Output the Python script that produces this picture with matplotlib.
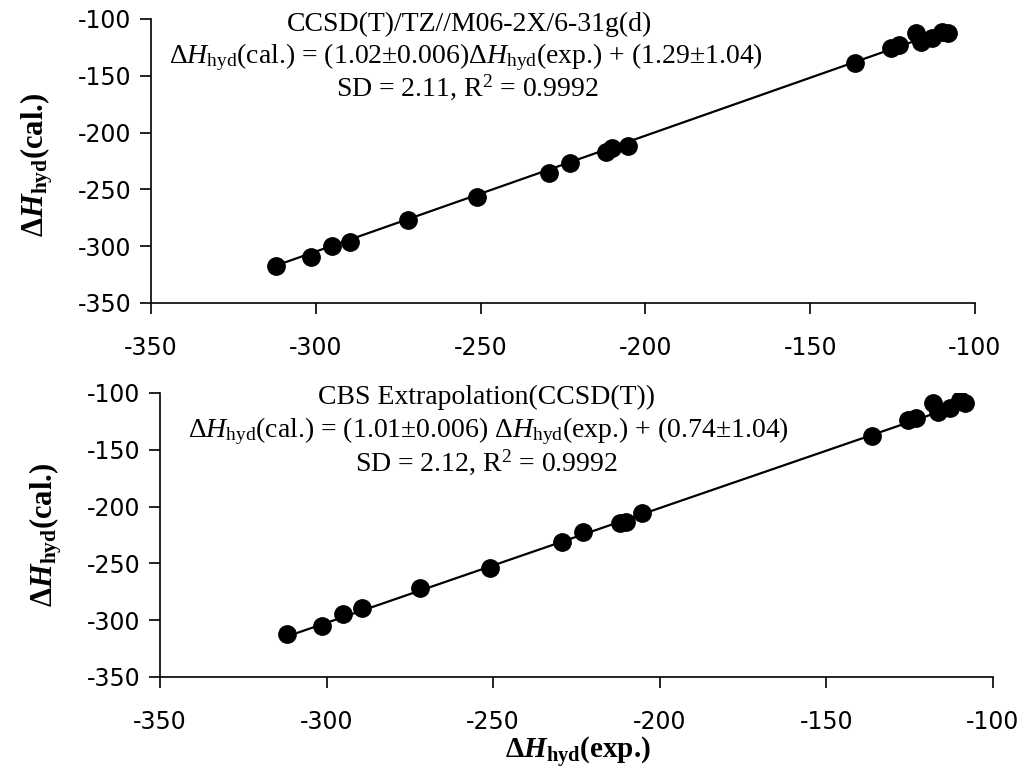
import matplotlib
matplotlib.use("Agg")
import matplotlib.pyplot as plt
import numpy as np

# ---- data ----
exp_vals = [-312, -301.5, -295, -289.5, -272, -251, -229.3, -223, -212, -210,
            -205.3, -136.3, -125.5, -123, -118, -116.5, -113, -110, -108.3]
cal_top = [-317.4, -309.5, -299.8, -296, -277, -256.7, -235.6, -226.8, -217.1, -213.6,
           -211.8, -138.7, -125.5, -122.9, -112.3, -120, -116.7, -111.4, -112.3]
cal_bot = [-312.1, -305.1, -294.5, -289.3, -271.7, -254, -231.2, -222.4, -214.4, -213.6,
           -205.6, -137.9, -123.8, -122, -108.8, -116.7, -113.2, -106, -108.8]
fit_top = (1.02, 1.29)
fit_bot = (1.01, 0.74)
ticks = [-350, -300, -250, -200, -150, -100]

title_top = "CCSD(T)/TZ//M06-2X/6-31g(d)"
eq_top = r"$\Delta\mathit{H}_{\rm hyd}$(cal.) = (1.02±0.006)$\Delta\mathit{H}_{\rm hyd}$(exp.) + (1.29±1.04)"
sd_top = r"SD = 2.11, R$^{2}$ = 0.9992"
title_bot = "CBS Extrapolation(CCSD(T))"
eq_bot = r"$\Delta\mathit{H}_{\rm hyd}$(cal.) = (1.01±0.006) $\Delta\mathit{H}_{\rm hyd}$(exp.) + (0.74±1.04)"
sd_bot = r"SD = 2.12, R$^{2}$ = 0.9992"
ylab = r"$\mathbf{\Delta}\mathbfit{H}_{\mathbf{hyd}}$(cal.)"
xlab = r"$\mathbf{\Delta}\mathbfit{H}_{\mathbf{hyd}}$(exp.)"

plt.rcParams['mathtext.fontset'] = 'custom'
plt.rcParams['mathtext.rm'] = 'Liberation Serif'
plt.rcParams['mathtext.it'] = 'Liberation Serif:italic'
plt.rcParams['mathtext.bf'] = 'Liberation Serif:bold'
plt.rcParams['mathtext.bfit'] = 'Liberation Serif:italic:bold'
plt.rcParams['axes.unicode_minus'] = False

W, H = 1025, 773
fig = plt.figure(figsize=(W / 100, H / 100), dpi=100)

def px_axes(l, r, t, b):
    return fig.add_axes([l / W, 1 - b / H, (r - l) / W, (b - t) / H])

ax1 = px_axes(151, 975, 19, 303)
ax2 = px_axes(160, 993, 393, 677)

for ax, cal, fit in ((ax1, cal_top, fit_top), (ax2, cal_bot, fit_bot)):
    x = np.array(exp_vals)
    xs = np.array([x.min(), x.max()])
    ax.plot(xs, fit[0] * xs + fit[1], color='black', lw=1.6, zorder=2)
    ax.plot(exp_vals, cal, 'o', color='black', ms=12.5, zorder=3)
    ax.set_xlim(-350, -100)
    ax.set_ylim(-350, -100)
    ax.set_xticks(ticks)
    ax.set_yticks(ticks)
    for s in ('top', 'right'):
        ax.spines[s].set_visible(False)
    for s in ('left', 'bottom'):
        ax.spines[s].set_linewidth(1.2)
    ax.tick_params(direction='out', length=8, width=1.2, labelsize=17, pad=6)
    ax.tick_params(axis='x', pad=16)
    for lab in ax.get_xticklabels() + ax.get_yticklabels():
        lab.set_fontfamily('DejaVu Sans')

serif = 'Liberation Serif'
fs = 20
def ftext(xp, yp, s):
    fig.text(xp / W, 1 - yp / H, s, ha='center', va='baseline', fontsize=fs, family=serif)

ftext(469, 31, title_top)
ftext(466, 63, eq_top)
ftext(467, 96, sd_top)
ftext(487, 404, title_bot)
ftext(488, 437, eq_bot)
ftext(486, 471, sd_bot)

fig.text(37 / W, 1 - 165 / H, ylab, rotation=90, ha='center', va='center', fontsize=22, family=serif, fontweight='bold')
fig.text(46 / W, 1 - 535 / H, ylab, rotation=90, ha='center', va='center', fontsize=22, family=serif, fontweight='bold')
fig.text(578 / W, 1 - 752 / H, xlab, ha='center', va='center', fontsize=21, family=serif, fontweight='bold')

fig.savefig('out.png', dpi=100)
